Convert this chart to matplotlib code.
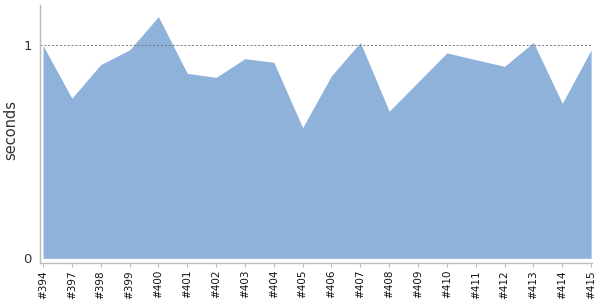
import matplotlib
matplotlib.use("Agg")
import matplotlib.pyplot as plt
import numpy as np

builds = ["#394", "#397", "#398", "#399", "#400", "#401", "#402", "#403", "#404", "#405",
          "#406", "#407", "#408", "#409", "#410", "#411", "#412", "#413", "#414", "#415"]
seconds = [1.0, 0.752, 0.910, 0.979, 1.135, 0.869, 0.850, 0.938, 0.921, 0.614,
           0.858, 1.014, 0.691, 0.828, 0.965, 0.933, 0.902, 1.014, 0.728, 0.979]

fig = plt.figure(figsize=(6, 3), dpi=100)
ax = fig.add_axes([40/600, 1-263/300, 552/600, 258/300])
x = np.arange(len(builds))
ax.fill_between(x, 0, seconds, color="#8fb2da", linewidth=0)
ax.axhline(1.0, color="#777777", linestyle=(0, (2, 2)), linewidth=0.7)
ax.set_xlim(-0.104, 19.03)
ax.set_ylim(-0.022, 1.19)
ax.set_xticks(x)
ax.set_xticklabels(builds, rotation=90, fontsize=7.5, color="#111111")
ax.set_yticks([0, 1])
ax.set_yticklabels(["0", "1"], fontsize=9.5, color="#333333")
ax.tick_params(axis="y", length=0, pad=6)
ax.tick_params(axis="x", length=3, color="#bbbbbb", pad=2)
for s in ["top", "right"]:
    ax.spines[s].set_visible(False)
for s in ["left", "bottom"]:
    ax.spines[s].set_color("#bbbbbb")
    ax.spines[s].set_linewidth(1)
ax.set_ylabel("seconds", fontsize=10.5, color="#333333")
ax.yaxis.set_label_coords(-0.040, 0.515)
fig.savefig("out.png", dpi=100)
